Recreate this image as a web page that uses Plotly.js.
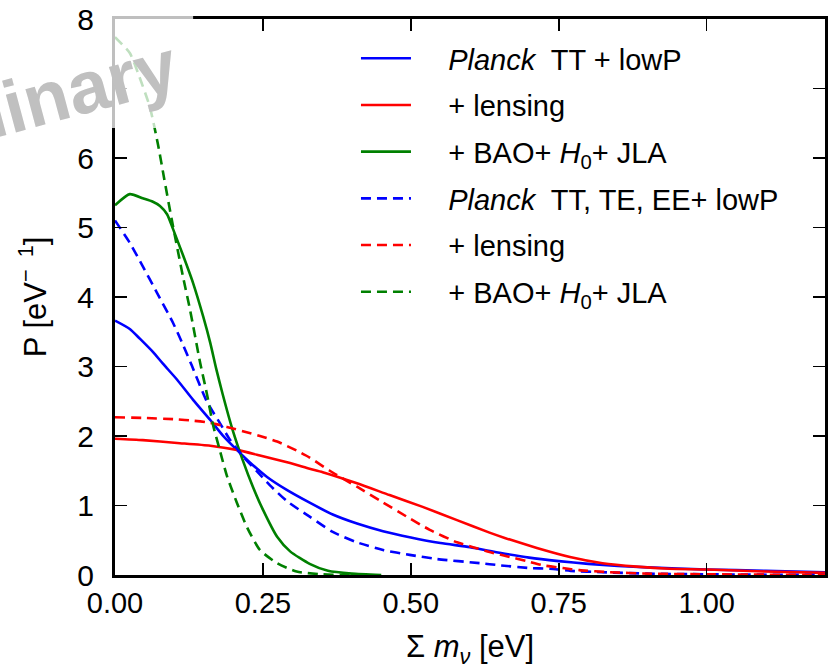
<!DOCTYPE html>
<html>
<head>
<meta charset="utf-8">
<script src="https://cdn.plot.ly/plotly-3.0.1.min.js"></script>
<style>html,body{margin:0;padding:0;background:#fff;}#plot{width:831px;height:670px;}</style>
</head>
<body>
<div id="plot"></div>
<script>
// Planck TT+lowP (solid blue)
const bsX = [0,0.025,0.042,0.064,0.081,0.105,0.132,0.161,0.182,0.206,0.228,0.257,0.291,0.329,0.368,0.409,0.453,0.5,0.55,0.6,0.65,0.7,0.75,0.8,0.85,0.9,1.0,1.1,1.2];
const bsY = [3.66,3.54,3.40,3.21,3.04,2.81,2.52,2.23,2.01,1.80,1.62,1.41,1.22,1.04,0.87,0.74,0.63,0.54,0.46,0.40,0.32,0.25,0.20,0.16,0.13,0.11,0.08,0.06,0.04];
// + lensing (solid red)
const rsX = [0,0.047,0.105,0.161,0.206,0.245,0.296,0.329,0.351,0.409,0.464,0.52,0.578,0.633,0.66,0.713,0.769,0.824,0.882,0.937,1.0,1.1,1.2];
const rsY = [1.96,1.94,1.90,1.86,1.80,1.72,1.61,1.53,1.48,1.32,1.15,0.98,0.79,0.61,0.53,0.39,0.26,0.17,0.12,0.09,0.08,0.05,0.03];
// + BAO + H0 + JLA (solid green)
const gsX = [0,0.025,0.047,0.064,0.076,0.088,0.098,0.115,0.132,0.149,0.161,0.171,0.182,0.199,0.216,0.233,0.250,0.274,0.296,0.329,0.36,0.4,0.45];
const gsY = [5.32,5.48,5.42,5.37,5.31,5.19,4.98,4.60,4.20,3.72,3.34,2.97,2.60,2.08,1.65,1.27,0.94,0.55,0.34,0.16,0.06,0.02,0];
// Planck TT,TE,EE+lowP (dashed blue)
const bdX = [0,0.025,0.047,0.071,0.098,0.113,0.130,0.155,0.177,0.194,0.216,0.240,0.262,0.291,0.329,0.368,0.409,0.453,0.498,0.544,0.617,0.65,0.7,0.735,0.77,0.824,0.9,1.0,1.2];
const bdY = [5.10,4.78,4.44,4.06,3.63,3.35,3.01,2.50,2.19,1.95,1.71,1.49,1.29,1.06,0.84,0.62,0.47,0.36,0.29,0.23,0.17,0.14,0.10,0.09,0.06,0.04,0.02,0.01,0.0];
// + lensing (dashed red)
const rdX = [0,0.047,0.105,0.132,0.161,0.189,0.216,0.245,0.274,0.307,0.329,0.363,0.409,0.448,0.493,0.532,0.578,0.605,0.633,0.667,0.696,0.723,0.757,0.785,0.836,0.9,1.0,1.2];
const rdY = [2.27,2.26,2.24,2.22,2.19,2.13,2.07,2.00,1.92,1.79,1.69,1.50,1.27,1.07,0.84,0.65,0.47,0.40,0.33,0.26,0.20,0.14,0.10,0.07,0.04,0.02,0.01,0.0];
// + BAO + H0 + JLA (dashed green)
const gdX = [0,0.025,0.039,0.059,0.073,0.083,0.096,0.115,0.127,0.144,0.155,0.166,0.177,0.189,0.206,0.223,0.245,0.274,0.307,0.35,0.4];
const gdY = [7.74,7.51,7.22,6.73,6.18,5.71,5.11,4.29,3.81,3.05,2.62,2.15,1.80,1.43,1.04,0.69,0.36,0.17,0.05,0.01,0];

const PAD = "\u00a0\u00a0\u00a0\u00a0";
const names = [
  PAD + "<i>Planck</i>  TT + lowP",
  PAD + "+ lensing",
  PAD + "+ BAO+ <i>H</i><sub>0</sub>+ JLA",
  PAD + "<i>Planck</i>  TT, TE, EE+ lowP",
  PAD + "+ lensing",
  PAD + "+ BAO+ <i>H</i><sub>0</sub>+ JLA"
];
const yTickVals = [0,1,2,3,4,5,6,7,8];
const yTickText = ["0","1","2","3","4","5","6","","8"];
const xTickVals = [0,0.25,0.5,0.75,1.0];
const xTickText = ["0.00","0.25","0.50","0.75","1.00"];

const BLUE = "#0000ff", RED = "#ff0000", GREEN = "#008000";
const DASH = "10px,6px";
function tr(x, y, name, color, dash, i) {
  return {x: x, y: y, name: name, type: "scatter", mode: "lines",
    legendgroup: "g" + i,
    line: {color: color, width: 2.6, dash: dash, shape: "spline", smoothing: 0.6}};
}
const data = [
  tr(bsX, bsY, names[0], BLUE, "solid", 0),
  tr(rsX, rsY, names[1], RED, "solid", 1),
  tr(gsX, gsY, names[2], GREEN, "solid", 2),
  tr(bdX, bdY, names[3], BLUE, DASH, 3),
  tr(rdX, rdY, names[4], RED, DASH, 4),
  tr(gdX, gdY, names[5], GREEN, DASH, 5)
];

const FONT = "Liberation Sans, Arial, sans-serif";
const layout = {
  width: 831, height: 670,
  margin: {l: 115, r: 6, t: 19, b: 95},
  paper_bgcolor: "#ffffff", plot_bgcolor: "#ffffff",
  font: {family: FONT, size: 30, color: "#000"},
  showlegend: true,
  legend: {x: 0.3394, y: 0.975, xanchor: "left", yanchor: "top",
    bgcolor: "rgba(0,0,0,0)", borderwidth: 0, font: {size: 29, family: FONT},
    traceorder: "grouped", tracegroupgap: 6, itemwidth: 50},
  xaxis: {range: [0, 1.2], tickmode: "array", tickvals: xTickVals, ticktext: xTickText,
    ticks: "inside", ticklen: 12, tickwidth: 1.5, tickcolor: "#000",
    showline: true, linewidth: 3, linecolor: "#000", mirror: "ticks",
    showgrid: false, zeroline: false, tickfont: {size: 29},
    title: {text: "Σ <i>m</i><sub><i>ν</i></sub> [eV]", font: {size: 31}, standoff: 18}},
  yaxis: {range: [0, 8], tickmode: "array", tickvals: yTickVals, ticktext: yTickText,
    ticks: "inside", ticklen: 12, tickwidth: 1.5, tickcolor: "#000",
    showline: true, linewidth: 3, linecolor: "#000", mirror: "ticks",
    showgrid: false, zeroline: false, tickfont: {size: 30}, ticklabelstandoff: 12,
    title: {text: "P [eV<sup>−  1</sup>]", font: {size: 31}, standoff: 22}},
  shapes: [{type: "rect", xref: "paper", yref: "paper", layer: "above",
    x0: -0.01, x1: 0.11, y0: 0.804, y1: 1.04,
    fillcolor: "rgba(255,255,255,0.75)", line: {width: 0}}],
  annotations: [{text: "<b>Preliminary</b>", xref: "paper", yref: "paper",
    x: -0.19, y: 0.826, xanchor: "center", yanchor: "middle", showarrow: false,
    textangle: -15, font: {family: FONT, size: 74, color: "#c0c0c0"}}]
};
Plotly.newPlot("plot", data, layout, {displayModeBar: false, staticPlot: true});
</script>
</body>
</html>
